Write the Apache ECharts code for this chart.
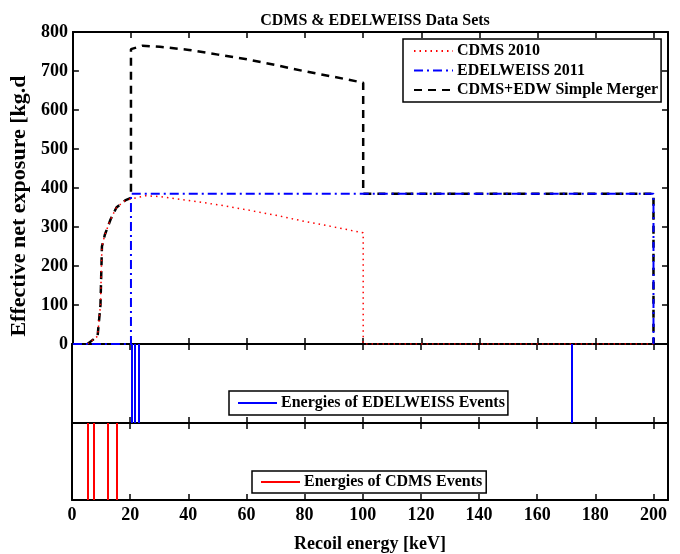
<!DOCTYPE html>
<html>
<head>
<meta charset="utf-8">
<script src="https://cdn.jsdelivr.net/npm/echarts@6/dist/echarts.min.js"></script>
<style>
  html, body { margin: 0; padding: 0; background: #fff; }
  #chart { width: 680px; height: 554px; }
</style>
</head>
<body>
<div id="chart"></div>
<script>
// recoil energy [keV] / exposure [kg.d]
var cdmsX = [5, 8.5, 9.5, 10, 11, 13, 15, 18, 20, 25, 30, 40, 50, 60, 70, 80, 90, 100, 100, 200];
var cdmsY = [0, 20, 100, 250, 280, 320, 350, 368, 372, 380, 378, 368, 357, 344, 330, 314, 300, 285, 0, 0];
var edwX = [0, 20, 20, 200, 200];
var edwY = [0, 0, 385, 385, 0];
var mergeX = [5, 8.5, 9.5, 10, 11, 13, 15, 18, 20, 20, 24, 30, 40, 50, 60, 70, 80, 90, 100, 100, 200, 200];
var mergeY = [0, 20, 100, 250, 280, 320, 350, 368, 375, 756, 765, 762, 754, 742, 730, 715, 699, 685, 670, 385, 385, 0];
// event energies [keV]
var edwEvents = [20.7, 21.5, 22.9, 172];
var cdmsEvents = [5.4, 7.4, 12.3, 15.4];

function pairs(xs, ys) {
    return xs.map(function (x, i) { return [x, ys[i]]; });
}

var font = 'Liberation Serif';
var txt = { fontFamily: font, fontWeight: 'bold', color: '#000' };
var grids = [
    { left: 72, top: 32, width: 596, height: 312 },
    { left: 72, top: 344, width: 596, height: 79 },
    { left: 72, top: 423, width: 596, height: 78 }
];

function xAx(grid, pos, labels) {
    return {
        type: 'value', gridIndex: grid, position: pos, min: 0, max: 205, interval: 20,
        splitLine: { show: false },
        axisLine: { show: true, onZero: false, lineStyle: { color: '#000', width: 2 } },
        axisTick: { show: true, inside: true, length: 6, lineStyle: { color: '#000', width: 1.5 } },
        axisLabel: labels ? Object.assign({ fontSize: 18, margin: 6,
            formatter: function (v) { return v > 200 ? '' : v; } }, txt) : { show: false },
        name: labels ? 'Recoil energy [keV]' : '',
        nameLocation: 'middle', nameGap: 35,
        nameTextStyle: Object.assign({ fontSize: 18 }, txt)
    };
}
function yAx(grid, pos, main) {
    return {
        type: 'value', gridIndex: grid, position: pos,
        min: 0, max: main ? 800 : 1, interval: main ? 100 : 1,
        splitLine: { show: false },
        axisLine: { show: true, onZero: false, lineStyle: { color: '#000', width: 2 } },
        axisTick: { show: main, inside: true, length: 6, lineStyle: { color: '#000', width: 1.5 } },
        axisLabel: (main && pos === 'left') ? Object.assign({ fontSize: 18, margin: 5 }, txt) : { show: false },
        name: (main && pos === 'left') ? 'Effective net exposure [kg.d' : '',
        nameLocation: 'middle', nameGap: 32,
        nameTextStyle: Object.assign({ fontSize: 22, padding: [0, 36, 0, 0] }, txt)
    };
}

function legendBox(left, top, names, pad) {
    return {
        left: left, top: top, orient: 'vertical', data: names,
        itemWidth: 39, itemHeight: 12, itemGap: 3.5,
        padding: pad,
        itemStyle: { opacity: 0 },
        borderColor: '#000', borderWidth: 1.5, backgroundColor: '#fff',
        textStyle: Object.assign({ fontSize: 16, padding: [0, 0, 0, -1] }, txt)
    };
}

var option = {
    animation: false,
    backgroundColor: '#fff',
    title: {
        text: 'CDMS & EDELWEISS Data Sets', left: 370, top: 8, textAlign: 'center',
        textStyle: Object.assign({ fontSize: 16 }, txt)
    },
    grid: grids,
    xAxis: [xAx(0, 'bottom', false), xAx(0, 'top', false),
            xAx(1, 'bottom', false), xAx(1, 'top', false),
            xAx(2, 'bottom', true), xAx(2, 'top', false)],
    yAxis: [yAx(0, 'left', true), yAx(0, 'right', true),
            yAx(1, 'left', false), yAx(1, 'right', false),
            yAx(2, 'left', false), yAx(2, 'right', false)],
    legend: [
        legendBox(403, 39, ['CDMS 2010', 'EDELWEISS 2011', 'CDMS+EDW Simple Merger'], [4, 3, 4, 10]),
        legendBox(229, 391, ['Energies of EDELWEISS Events'], [4, 3, 4, 8]),
        legendBox(252, 471, ['Energies of CDMS Events'], [3, 4, 3, 8])
    ],
    series: [
        {
            name: 'CDMS 2010', type: 'line', xAxisIndex: 0, yAxisIndex: 0,
            symbol: 'none', color: '#ff0000', z: 3,
            lineStyle: { color: '#ff0000', width: 1.5, type: [1.5, 4] },
            data: pairs(cdmsX, cdmsY)
        },
        {
            name: 'EDELWEISS 2011', type: 'line', xAxisIndex: 0, yAxisIndex: 0,
            symbol: 'none', color: '#0000ff', z: 4,
            lineStyle: { color: '#0000ff', width: 2, type: [9, 4, 2, 4] },
            data: pairs(edwX, edwY)
        },
        {
            name: 'CDMS+EDW Simple Merger', type: 'line', xAxisIndex: 0, yAxisIndex: 0,
            symbol: 'none', color: '#000', z: 2,
            lineStyle: { color: '#000', width: 2.5, type: [8, 6] },
            data: pairs(mergeX, mergeY)
        },
        {
            name: 'Energies of EDELWEISS Events', type: 'line', xAxisIndex: 2, yAxisIndex: 2,
            symbol: 'none', color: '#0000ff', lineStyle: { color: '#0000ff', width: 2.5 },
            data: [],
            markLine: {
                symbol: 'none', silent: true, label: { show: false },
                lineStyle: { color: '#0000ff', width: 2, type: 'solid' },
                data: edwEvents.map(function (e) { return { xAxis: e }; })
            }
        },
        {
            name: 'Energies of CDMS Events', type: 'line', xAxisIndex: 4, yAxisIndex: 4,
            symbol: 'none', color: '#ff0000', lineStyle: { color: '#ff0000', width: 2.5 },
            data: [],
            markLine: {
                symbol: 'none', silent: true, label: { show: false },
                lineStyle: { color: '#ff0000', width: 2, type: 'solid' },
                data: cdmsEvents.map(function (e) { return { xAxis: e }; })
            }
        }
    ]
};

var myChart = echarts.init(document.getElementById('chart'));
myChart.setOption(option);
</script>
</body>
</html>
